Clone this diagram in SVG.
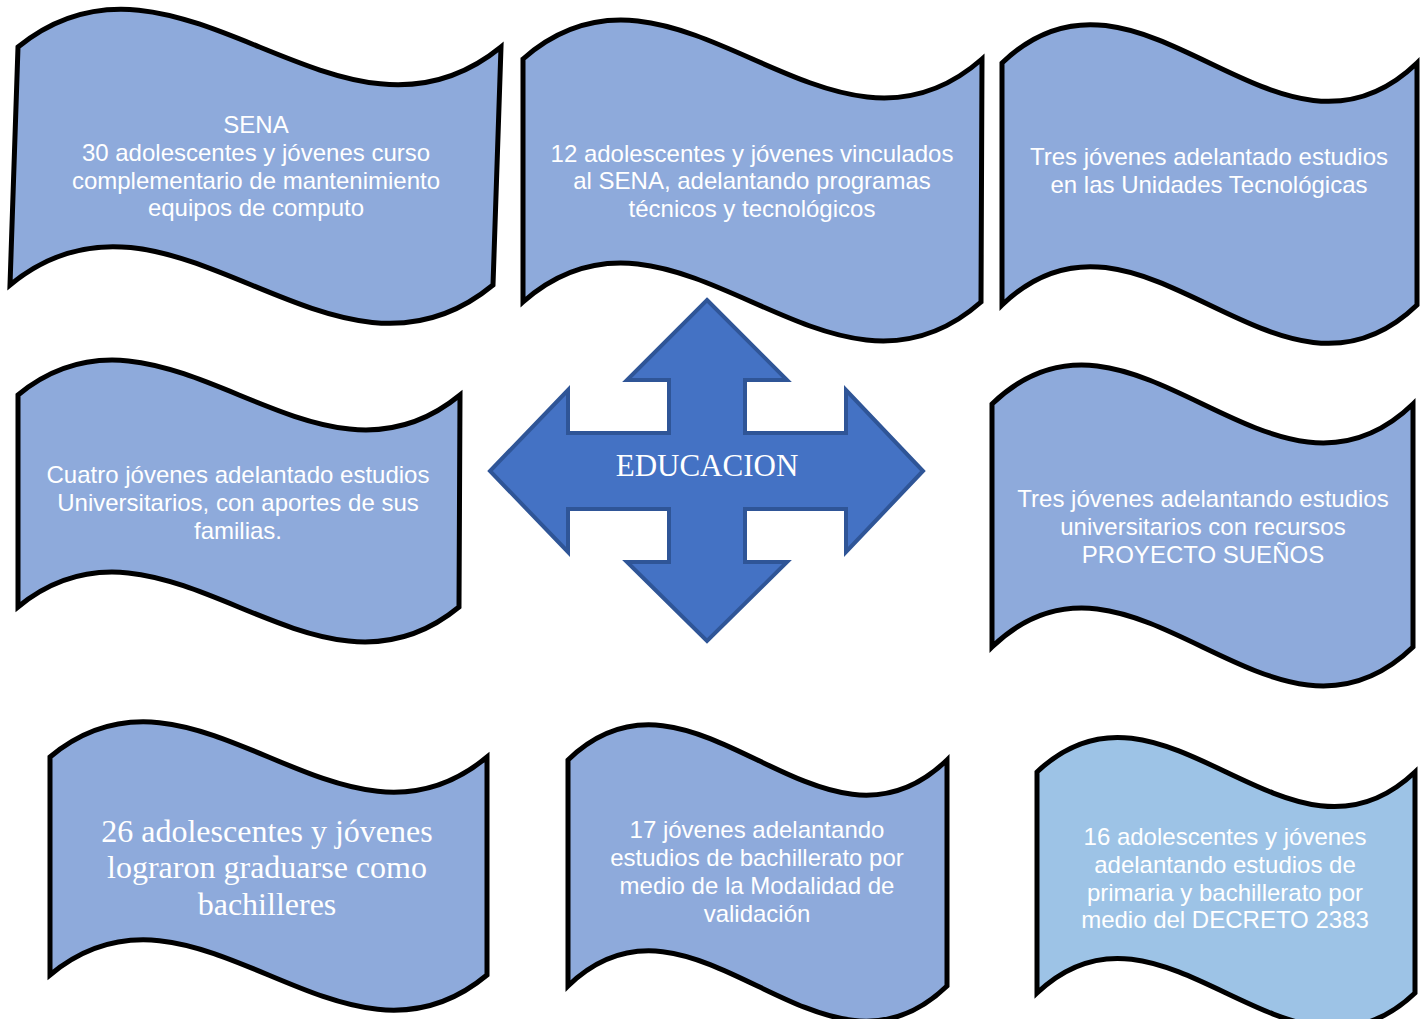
<svg xmlns="http://www.w3.org/2000/svg" width="1423" height="1019" viewBox="0 0 1423 1019">
<style>
.wave{fill:#8EAADB;stroke:#000;stroke-width:5;stroke-linejoin:miter}
.wave2{fill:#9DC3E6;stroke:#000;stroke-width:5;stroke-linejoin:miter}
.t{font-family:"Liberation Sans",Arial,sans-serif;font-size:24px;fill:#fff;text-anchor:middle}
.ts{font-family:"Liberation Serif","Times New Roman",serif;font-size:32px;fill:#fff;text-anchor:middle}
.arrow{fill:#4472C4;stroke:#2F5597;stroke-width:4;stroke-linejoin:miter}
</style>
<rect width="1423" height="1019" fill="#fff"/>
<g id="node-sena">
<path class="wave" d="M18,47 C179,-84 340,178 501,47 L493,285 C332,418 171,152 10,285 Z"/>
<text class="t"><tspan x="256" y="133">SENA</tspan><tspan x="256" y="161">30 adolescentes y jóvenes curso</tspan><tspan x="256" y="189">complementario de mantenimiento</tspan><tspan x="256" y="216">equipos de computo</tspan></text>
</g>
<g id="node-vinculados">
<path class="wave" d="M523,59 C676,-76 829,194 982,59 L981,302 C828,437 676,167 523,302 Z"/>
<text class="t"><tspan x="752" y="162">12 adolescentes y jóvenes vinculados</tspan><tspan x="752" y="189">al SENA, adelantando programas</tspan><tspan x="752" y="217">técnicos y tecnológicos</tspan></text>
</g>
<g id="node-unidades">
<path class="wave" d="M1002,63 C1140,-70 1279,196 1417,63 L1417,305 C1279,438 1140,172 1002,305 Z"/>
<text class="t"><tspan x="1209" y="165">Tres jóvenes adelantado estudios</tspan><tspan x="1209" y="193">en las Unidades Tecnológicas</tspan></text>
</g>
<g id="node-cuatro">
<path class="wave" d="M18,395 C165,274 313,516 460,395 L459,607 C312,728 165,486 18,607 Z"/>
<text class="t"><tspan x="238" y="483">Cuatro jóvenes adelantado estudios</tspan><tspan x="238" y="511">Universitarios, con aportes de sus</tspan><tspan x="238" y="539">familias.</tspan></text>
</g>
<g id="node-suenos">
<path class="wave" d="M992,404 C1132,269 1273,539 1413,404 L1413,647 C1273,782 1132,512 992,647 Z"/>
<text class="t"><tspan x="1203" y="507">Tres jóvenes adelantando estudios</tspan><tspan x="1203" y="535">universitarios con recursos</tspan><tspan x="1203" y="563">PROYECTO SUEÑOS</tspan></text>
</g>
<g id="node-bachilleres">
<path class="wave" d="M50,757 C196,635 341,879 487,757 L487,975 C341,1097 196,853 50,975 Z"/>
<text class="ts"><tspan x="267" y="842">26 adolescentes y jóvenes</tspan><tspan x="267" y="878">lograron graduarse como</tspan><tspan x="267" y="915">bachilleres</tspan></text>
</g>
<g id="node-validacion">
<path class="wave" d="M568,760 C694,638 821,882 947,760 L947,986 C821,1108 694,864 568,986 Z"/>
<text class="t"><tspan x="757" y="838">17 jóvenes adelantando</tspan><tspan x="757" y="866">estudios de bachillerato por</tspan><tspan x="757" y="894">medio de la Modalidad de</tspan><tspan x="757" y="922">validación</tspan></text>
</g>
<g id="node-decreto">
<path class="wave2" d="M1037,772 C1163,652 1289,892 1415,772 L1415,993 C1289,1113 1163,873 1037,993 Z"/>
<text class="t"><tspan x="1225" y="845">16 adolescentes y jóvenes</tspan><tspan x="1225" y="873">adelantando estudios de</tspan><tspan x="1225" y="901">primaria y bachillerato por</tspan><tspan x="1225" y="928">medio del DECRETO 2383</tspan></text>
</g>
<g id="node-educacion">
<path class="arrow" d="M707,300 L787,380 L745,380 L745,433 L846,433 L846,390 L923,471 L846,552 L846,509 L745,509 L745,562 L787,562 L707,641 L627,562 L669,562 L669,509 L568,509 L568,552 L490,471 L568,390 L568,433 L669,433 L669,380 L627,380 Z"/>
<text x="707" y="476" style="font-family:'Liberation Serif','Times New Roman',serif;font-size:31px;fill:#fff;text-anchor:middle">EDUCACION</text>
</g>
<g id="connectors"></g>
</svg>
